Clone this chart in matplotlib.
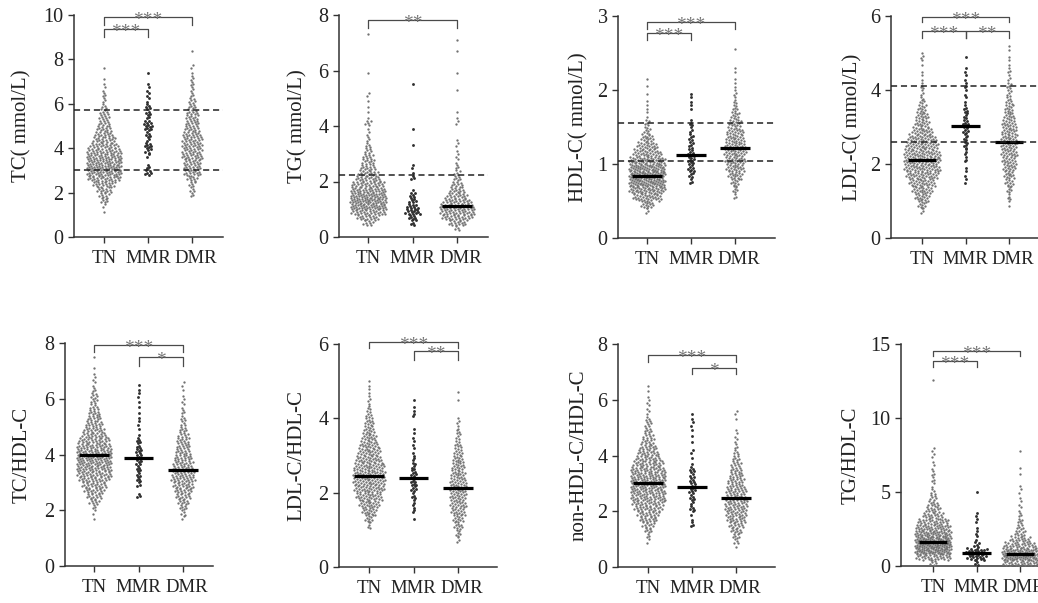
import numpy as np
import matplotlib
matplotlib.use("Agg")
import matplotlib.pyplot as plt
from matplotlib.transforms import offset_copy, ScaledTranslation

plt.rcParams['font.family'] = ['Liberation Serif', 'DejaVu Serif']

groups = ['TN', 'MMR', 'DMR']

# histogram counts: (first bin start, counts per bin)
tc_step = 0.25
tc_tn = (1.0, [1, 2, 6, 8, 12, 18, 26, 32, 34, 32, 30, 28, 22, 18, 15, 12, 9, 8, 7, 4, 3, 3, 2, 1, 1, 0, 1])
tc_mmr = (2.75, [6, 3, 0, 2, 5, 6, 3, 4, 6, 7, 3, 4, 4, 2, 2, 2, 1, 0, 1])
tc_dmr = (1.75, [3, 4, 5, 8, 14, 14, 14, 17, 16, 16, 16, 15, 12, 11, 10, 9, 6, 6, 3, 3, 3, 3, 1, 2, 0, 0, 1])

tg_step = 0.2
tg_tn = (0.4, [8, 18, 28, 36, 38, 36, 30, 26, 20, 16, 12, 10, 8, 6, 4, 3, 2, 1, 5, 1, 1, 1, 1, 2, 0, 0, 0, 1,
               0, 0, 0, 0, 0, 0, 1])
tg_mmr = (0.4, [4, 7, 12, 9, 6, 5, 1, 0, 3, 1, 2, 0, 0, 0, 1, 0, 0, 1, 0, 0, 0, 0, 0, 0, 0, 1])
tg_dmr = (0.2, [4, 14, 24, 28, 28, 22, 16, 12, 9, 6, 5, 3, 2, 2, 1, 2, 1, 0, 0, 2, 1, 1, 0, 0, 0, 1, 0, 0,
                1, 0, 0, 0, 1, 0, 1])

hdl_step = 0.1
hdl_tn = (0.3, [3, 14, 30, 45, 55, 58, 52, 42, 30, 22, 14, 8, 5, 2, 2, 1, 1, 1, 1])
hdl_mmr = (0.7, [3, 5, 7, 8, 7, 5, 5, 3, 4, 0, 2, 2, 1])
hdl_dmr = (0.5, [3, 6, 10, 16, 20, 22, 24, 22, 20, 17, 13, 10, 6, 4, 3, 2, 1, 2, 0, 0, 1])

ldl_step = 0.2
ldl_tn = (0.6, [3, 10, 16, 22, 28, 34, 38, 40, 38, 34, 30, 22, 16, 14, 10, 6, 3, 4, 2, 1, 2, 3])
ldl_mmr = (1.4, [2, 2, 1, 3, 3, 5, 5, 6, 6, 5, 4, 2, 2, 3, 2, 2, 0, 1])
ldl_dmr = (0.8, [2, 4, 6, 9, 12, 14, 15, 17, 18, 18, 16, 15, 12, 10, 7, 5, 5, 3, 3, 2, 1, 2])

tch_step = 0.2
tch_tn = (1.6, [1, 2, 3, 8, 12, 16, 20, 24, 28, 30, 32, 32, 30, 28, 24, 20, 16, 14, 11, 9, 7, 5, 6, 3, 2, 2,
                1, 1, 0, 1])
tch_mmr = (2.4, [3, 0, 3, 4, 4, 4, 5, 5, 5, 4, 4, 1, 1, 2, 1, 1, 1, 1, 2, 1, 1])
tch_dmr = (1.6, [2, 4, 6, 9, 12, 14, 17, 19, 18, 17, 16, 14, 12, 11, 10, 8, 6, 4, 4, 3, 2, 2, 1, 1, 2])

lh_step = 0.2
lh_tn = (1.0, [4, 10, 16, 22, 28, 32, 34, 34, 32, 28, 24, 20, 16, 12, 9, 7, 4, 3, 2, 2])
lh_mmr = (1.2, [1, 3, 3, 4, 6, 7, 6, 5, 3, 2, 2, 2, 1, 0, 3, 1, 1])
lh_dmr = (0.6, [3, 6, 9, 12, 15, 17, 18, 18, 17, 16, 14, 12, 9, 7, 5, 4, 3, 0, 0, 1, 1])

nh_step = 0.2
nh_tn = (0.8, [2, 3, 6, 10, 14, 18, 22, 26, 28, 30, 32, 32, 30, 28, 24, 20, 17, 14, 10, 8, 6, 5, 4, 2, 2, 2,
               1, 1, 1])
nh_mmr = (1.4, [3, 1, 2, 4, 3, 4, 5, 5, 4, 4, 4, 1, 1, 2, 0, 1, 1, 1, 2, 1, 1])
nh_dmr = (0.6, [1, 4, 6, 9, 12, 15, 17, 18, 18, 17, 16, 15, 13, 11, 9, 8, 6, 4, 3, 2, 2, 1, 0, 1, 2])

tgh_step = 0.4
tgh_tn = (0.0, [6, 30, 52, 56, 50, 42, 34, 26, 18, 13, 9, 6, 4, 2, 3, 3, 2, 1, 2, 2, 0, 0, 0, 0, 0, 0, 0, 0,
                0, 0, 0, 1])
tgh_mmr = (0.0, [4, 16, 18, 5, 2, 2, 1, 2, 2, 0, 0, 0, 1])
tgh_dmr = (0.0, [30, 50, 42, 28, 18, 10, 6, 5, 3, 2, 2, 1, 2, 1, 0, 1, 1, 0, 0, 1])

# medians drawn as black bars (None = not visible)
tc_med = [None, None, None]
tg_med = [None, None, 1.1]
hdl_med = [0.84, 1.12, 1.21]
ldl_med = [2.1, 3.02, 2.6]
tch_med = [3.99, 3.87, 3.45]
lh_med = [2.45, 2.4, 2.12]
nh_med = [3.0, 2.88, 2.47]
tgh_med = [1.6, 0.9, 0.82]

# reference lines
tc_ref = [5.7, 3.0]
tg_ref = [2.25]
hdl_ref = [1.55, 1.04]
ldl_ref = [4.1, 2.6]

# significance brackets: (from, to, top, bottom, label)
tc_sig = [(0, 2, 9.9, 9.55, '***'), (0, 1, 9.36, 9.03, '***')]
tg_sig = [(0, 2, 7.82, 7.53, '**')]
hdl_sig = [(0, 2, 2.92, 2.83, '***'), (0, 1, 2.77, 2.67, '***')]
ldl_sig = [(0, 2, 5.96, 5.85, '***'), (0, 1, 5.6, 5.4, '***'), (1, 2, 5.6, 5.4, '**')]
tch_sig = [(0, 2, 7.93, 7.66, '***'), (1, 2, 7.49, 7.18, '*')]
lh_sig = [(0, 2, 6.05, 5.89, '***'), (1, 2, 5.8, 5.57, '**')]
nh_sig = [(0, 2, 7.6, 7.37, '***'), (1, 2, 7.15, 6.91, '*')]
tgh_sig = [(0, 2, 14.55, 14.18, '***'), (0, 1, 13.85, 13.45, '***')]

panels = [
    dict(label='TC( mmol/L)', step=tc_step, data=[tc_tn, tc_mmr, tc_dmr], med=tc_med, ref=tc_ref, sig=tc_sig,
         ymax=10, yt=[0, 2, 4, 6, 8, 10], box=(74, 15, 223, 237), tx=(104, 192), lx=22),
    dict(label='TG( mmol/L)', step=tg_step, data=[tg_tn, tg_mmr, tg_dmr], med=tg_med, ref=tg_ref, sig=tg_sig,
         ymax=8, yt=[0, 2, 4, 6, 8], box=(339, 15, 488, 237), tx=(368, 457), lx=298),
    dict(label='HDL-C( mmol/L)', step=hdl_step, data=[hdl_tn, hdl_mmr, hdl_dmr], med=hdl_med, ref=hdl_ref,
         sig=hdl_sig, ymax=3, yt=[0, 1, 2, 3], box=(618, 16, 775, 238), tx=(647, 735), lx=579),
    dict(label='LDL-C( mmol/L)', step=ldl_step, data=[ldl_tn, ldl_mmr, ldl_dmr], med=ldl_med, ref=ldl_ref,
         sig=ldl_sig, ymax=6, yt=[0, 2, 4, 6], box=(891, 16, 1040, 238), tx=(922, 1009), lx=853),
    dict(label='TC/HDL-C', step=tch_step, data=[tch_tn, tch_mmr, tch_dmr], med=tch_med, ref=[], sig=tch_sig,
         ymax=8, yt=[0, 2, 4, 6, 8], box=(65, 343, 213, 566), tx=(94, 183), lx=22),
    dict(label='LDL-C/HDL-C', step=lh_step, data=[lh_tn, lh_mmr, lh_dmr], med=lh_med, ref=[], sig=lh_sig,
         ymax=6, yt=[0, 2, 4, 6], box=(339, 344, 497, 567), tx=(369, 458), lx=297),
    dict(label='non-HDL-C/HDL-C', step=nh_step, data=[nh_tn, nh_mmr, nh_dmr], med=nh_med, ref=[], sig=nh_sig,
         ymax=8, yt=[0, 2, 4, 6, 8], box=(618, 344, 775, 567), tx=(648, 736), lx=579),
    dict(label='TG/HDL-C', step=tgh_step, data=[tgh_tn, tgh_mmr, tgh_dmr], med=tgh_med, ref=[], sig=tgh_sig,
         ymax=15, yt=[0, 5, 10, 15], box=(901, 344, 1060, 566), tx=(933, 1020), lx=851),
]

W, H = 1038, 603
fig = plt.figure(figsize=(W / 100, H / 100), dpi=100)

point_colors = ['#727272', '#2e2e2e', '#727272']
point_sizes = [2.8, 4.2, 2.8]
label_shift = [0, 0, 4]  # px, the DMR label sits a little right of its tick


def swarm(ax, xc, start, step, counts, ppx, ppy, color, s):
    xs, ys = [], []
    h_px = step * ppy
    for b, n in enumerate(counts):
        if n == 0:
            continue
        lo = start + b * step
        half = min(n * 3.6 / h_px, 18) / ppx
        for i in range(n):
            fx = ((i + 0.5) / n) * 2 - 1 if n > 1 else 0
            fy = (i * 0.618034 + 0.37) % 1 if n > 1 else 0.5
            xs.append(xc + fx * half)
            ys.append(lo + fy * step)
    ax.scatter(xs, ys, s=s, c=color, linewidths=0, zorder=3)


for p in panels:
    l, t, r, b = p['box']
    ax = fig.add_axes([l / W, 1 - b / H, (r - l) / W, (b - t) / H])
    sp = (p['tx'][1] - p['tx'][0]) / 2
    ax.set_xlim((l - p['tx'][0]) / sp, (r - p['tx'][0]) / sp)
    ax.set_ylim(0, p['ymax'])
    ppx = sp
    ppy = (b - t) / p['ymax']
    for g in range(3):
        start, counts = p['data'][g]
        swarm(ax, g, start, p['step'], counts, ppx, ppy, point_colors[g], point_sizes[g])
        if p['med'][g] is not None:
            ax.plot([g - 0.33, g + 0.33], [p['med'][g]] * 2, color='black', lw=2.3, zorder=4,
                    solid_capstyle='butt')
    for yv in p['ref']:
        ax.axhline(yv, color='#222222', lw=1.1, ls=(0, (4, 2.5)), zorder=5)
    star_tr = offset_copy(ax.transData, fig=fig, x=0, y=-8, units='dots')
    for i, j, top, bot, lab in p['sig']:
        ax.plot([i, i, j, j], [bot, top, top, bot], color='#4a4a4a', lw=0.9, zorder=5, clip_on=False)
        ax.text((i + j) / 2, top, lab, ha='center', va='baseline', fontsize=14,
                color='#777777', zorder=6, transform=star_tr)
    for side in ['top', 'right']:
        ax.spines[side].set_visible(False)
    for side in ['left', 'bottom']:
        ax.spines[side].set_color('#333333')
        ax.spines[side].set_linewidth(1.1)
    ax.set_yticks(p['yt'])
    ax.set_xticks([0, 1, 2])
    ax.set_xticklabels(groups)
    ax.tick_params(axis='both', colors='#333333', labelcolor='#222222', length=4.5, width=1.0)
    ax.tick_params(axis='y', pad=3, labelsize=14.5)
    ax.tick_params(axis='x', pad=5, labelsize=13.5)
    for lbl, dx in zip(ax.get_xticklabels(), label_shift):
        lbl.set_transform(lbl.get_transform() + ScaledTranslation(dx / 100, 0, fig.dpi_scale_trans))
    ax.set_ylabel(p['label'], fontsize=15, color='#222222')
    ax.yaxis.label.set_va('center')
    ax.yaxis.set_label_coords((p['lx'] - l) / (r - l), 0.5)

fig.savefig('out.png', dpi=100)
